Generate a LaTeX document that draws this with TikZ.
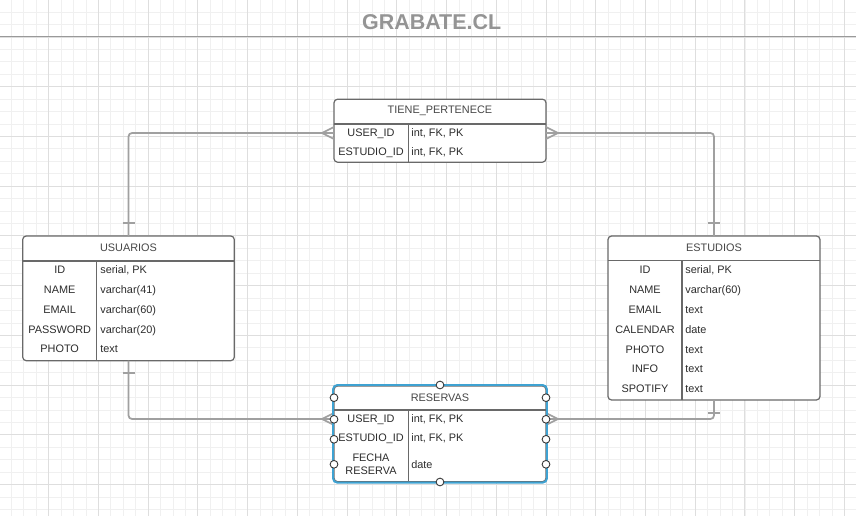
\documentclass[tikz,border=0pt]{standalone}
\usepackage{fontspec}
\setmainfont{Liberation Sans}
\usetikzlibrary{calc}
\definecolor{gridmin}{RGB}{240,240,240}
\definecolor{gridmaj}{RGB}{222,222,222}
\definecolor{relgray}{RGB}{160,160,160}
\definecolor{tblgray}{RGB}{105,105,105}
\definecolor{txtgray}{RGB}{45,45,45}
\definecolor{selblue}{RGB}{62,162,210}
\tikzset{
  ergridmin/.style={draw=gridmin, line width=0.5pt},
  ergridmaj/.style={draw=gridmaj, line width=0.6pt},
  ertitle/.style={font=\fontsize{12.2}{14}\selectfont\bfseries, text=black!42, inner sep=0pt},
  ertopline/.style={draw=black!40, line width=0.85pt},
  ertable/.style={draw=tblgray, fill=white, line width=0.7pt, rounded corners=2pt, inner sep=0pt, outer sep=0pt},
  erline/.style={draw=tblgray, line width=0.7pt},
  erhead/.style={font=\fontsize{6.2}{7.5}\selectfont, text=black!72, text height=5.5pt, text depth=1pt, inner sep=0pt},
  erkey/.style={erhead, text=txtgray},
  ertype/.style={erkey, anchor=west},
  ertwo/.style={font=\fontsize{6.2}{7.5}\selectfont, text=txtgray, align=center, inner sep=0pt},
  errel/.style={draw=relgray, line width=1pt, rounded corners=2pt},
  ermark/.style={draw=relgray, line width=1pt},
  ersel/.style={draw=selblue, line width=1.1pt, rounded corners=2.5pt},
  erhandle/.style={circle, draw=black!80, fill=white, line width=0.5pt, minimum size=0.155cm, inner sep=0pt}
}

\begin{document}
\begin{tikzpicture}[x=0.02cm, y=-0.02cm]
\useasboundingbox[fill=white] (0,0) rectangle (856,516);
\foreach \i in {0,...,68} \draw[ergridmin] ({-1+12.433*\i},0) -- ++(0,516);
\foreach \i in {0,...,41} \draw[ergridmin] (0,{-0.3+12.433*\i}) -- ++(856,0);
\foreach \i in {0,...,17} \draw[ergridmaj] ({-1+49.73*\i},0) -- ++(0,516);
\foreach \i in {0,...,10} \draw[ergridmaj] (0,{37+49.73*\i}) -- ++(856,0);

\node[ertitle] (title) at (431.7,22) {GRABATE.CL};
\draw[ertopline] (0,36.6) -- (856,36.6);

% tiene_pertenece
\node[ertable, minimum width=4.24cm, minimum height=1.26cm] (tp) at (440,130.7) {};
\draw[erline] (334,124) -- (546,124) (408.3,124) -- (408.3,162.3);
\node[erhead] (tp-head) at (440,110) {TIENE\_PERTENECE};
\node[erkey] (tp-k1) at (371,133) {USER\_ID};
\node[ertype] (tp-t1) at (411,133) {int, FK, PK};
\node[erkey] (tp-k2) at (371,152) {ESTUDIO\_ID};
\node[ertype] (tp-t2) at (411,152) {int, FK, PK};

% usuarios
\node[ertable, minimum width=4.232cm, minimum height=2.494cm] (usu) at (128.5,298.35) {};
\draw[erline] (22.7,261) -- (234.3,261) (96.7,261) -- (96.7,360.7);
\node[erhead] (usu-head) at (128.5,247.5) {USUARIOS};
\foreach \k/\t [count=\i] in {ID/{serial, PK}, NAME/varchar(41), EMAIL/varchar(60), PASSWORD/varchar(20), PHOTO/text} {
  \node[erkey] (usu-k\i) at (59.7,{250.25+19.75*\i}) {\k};
  \node[ertype] (usu-t\i) at (100,{250.25+19.75*\i}) {\t};
}

% estudios
\node[ertable, minimum width=4.24cm, minimum height=3.28cm] (est) at (714,318) {};
\draw[erline] (608,260.7) -- (820,260.7) (682,260.7) -- (682,400);
\node[erhead] (est-head) at (714,247.5) {ESTUDIOS};
\foreach \k/\t [count=\i] in {ID/{serial, PK}, NAME/varchar(60), EMAIL/text, CALENDAR/date, PHOTO/text, INFO/text, SPOTIFY/text} {
  \node[erkey] (est-k\i) at (645,{250.2+19.8*\i}) {\k};
  \node[ertype] (est-t\i) at (685,{250.2+19.8*\i}) {\t};
}

% reservas
\node[ertable, minimum width=4.24cm, minimum height=1.914cm] (res) at (440,433.85) {};
\draw[erline] (334,410) -- (546,410) (408.3,410) -- (408.3,481.7);
\node[erhead] (res-head) at (440,397.5) {RESERVAS};
\node[erkey] (res-k1) at (371,419) {USER\_ID};
\node[ertype] (res-t1) at (411,419) {int, FK, PK};
\node[erkey] (res-k2) at (371,437.5) {ESTUDIO\_ID};
\node[ertype] (res-t2) at (411,437.5) {int, FK, PK};
\node[ertwo] (res-k3) at (371,464.3) {FECHA\\RESERVA};
\node[ertype] (res-t3) at (411,464.3) {date};

% relaciones
\draw[errel] (usu.north) |- (tp-k1 -| tp.west);
\draw[ermark] ($(usu.north)+(-6,-13.3)$) -- ++(12,0);
\draw[ermark] ($(tp-k1 -| tp.west)+(-12,0)$) -- ++(12,-6) ($(tp-k1 -| tp.west)+(-12,0)$) -- ++(12,6);

\draw[errel] (est.north) |- (tp-k1 -| tp.east);
\draw[ermark] ($(est.north)+(-6,-13.3)$) -- ++(12,0);
\draw[ermark] ($(tp-k1 -| tp.east)+(12,0)$) -- ++(-12,-6) ($(tp-k1 -| tp.east)+(12,0)$) -- ++(-12,6);

\draw[errel] (usu.south) |- (res-k1 -| res.west);
\draw[ermark] ($(usu.south)+(-6,12.6)$) -- ++(12,0);
\draw[ermark] ($(res-k1 -| res.west)+(-12,0)$) -- ++(12,-6) ($(res-k1 -| res.west)+(-12,0)$) -- ++(12,6);

\draw[errel] (est.south) |- (res-k1 -| res.east);
\draw[ermark] ($(est.south)+(-6,12.7)$) -- ++(12,0);
\draw[ermark] ($(res-k1 -| res.east)+(12,0)$) -- ++(-12,-6) ($(res-k1 -| res.east)+(12,0)$) -- ++(-12,6);

% seleccion
\draw[ersel] (333,385) rectangle (547,482.7);
\node[erhandle] (hdl-t) at (440,385) {};
\node[erhandle] (hdl-b) at (440,482) {};
\foreach \y [count=\i] in {397.7,419.3,439.3,464.3} {
  \node[erhandle] (hdl-l\i) at (334,\y) {};
  \node[erhandle] (hdl-r\i) at (546,\y) {};
}
\end{tikzpicture}
\end{document}
